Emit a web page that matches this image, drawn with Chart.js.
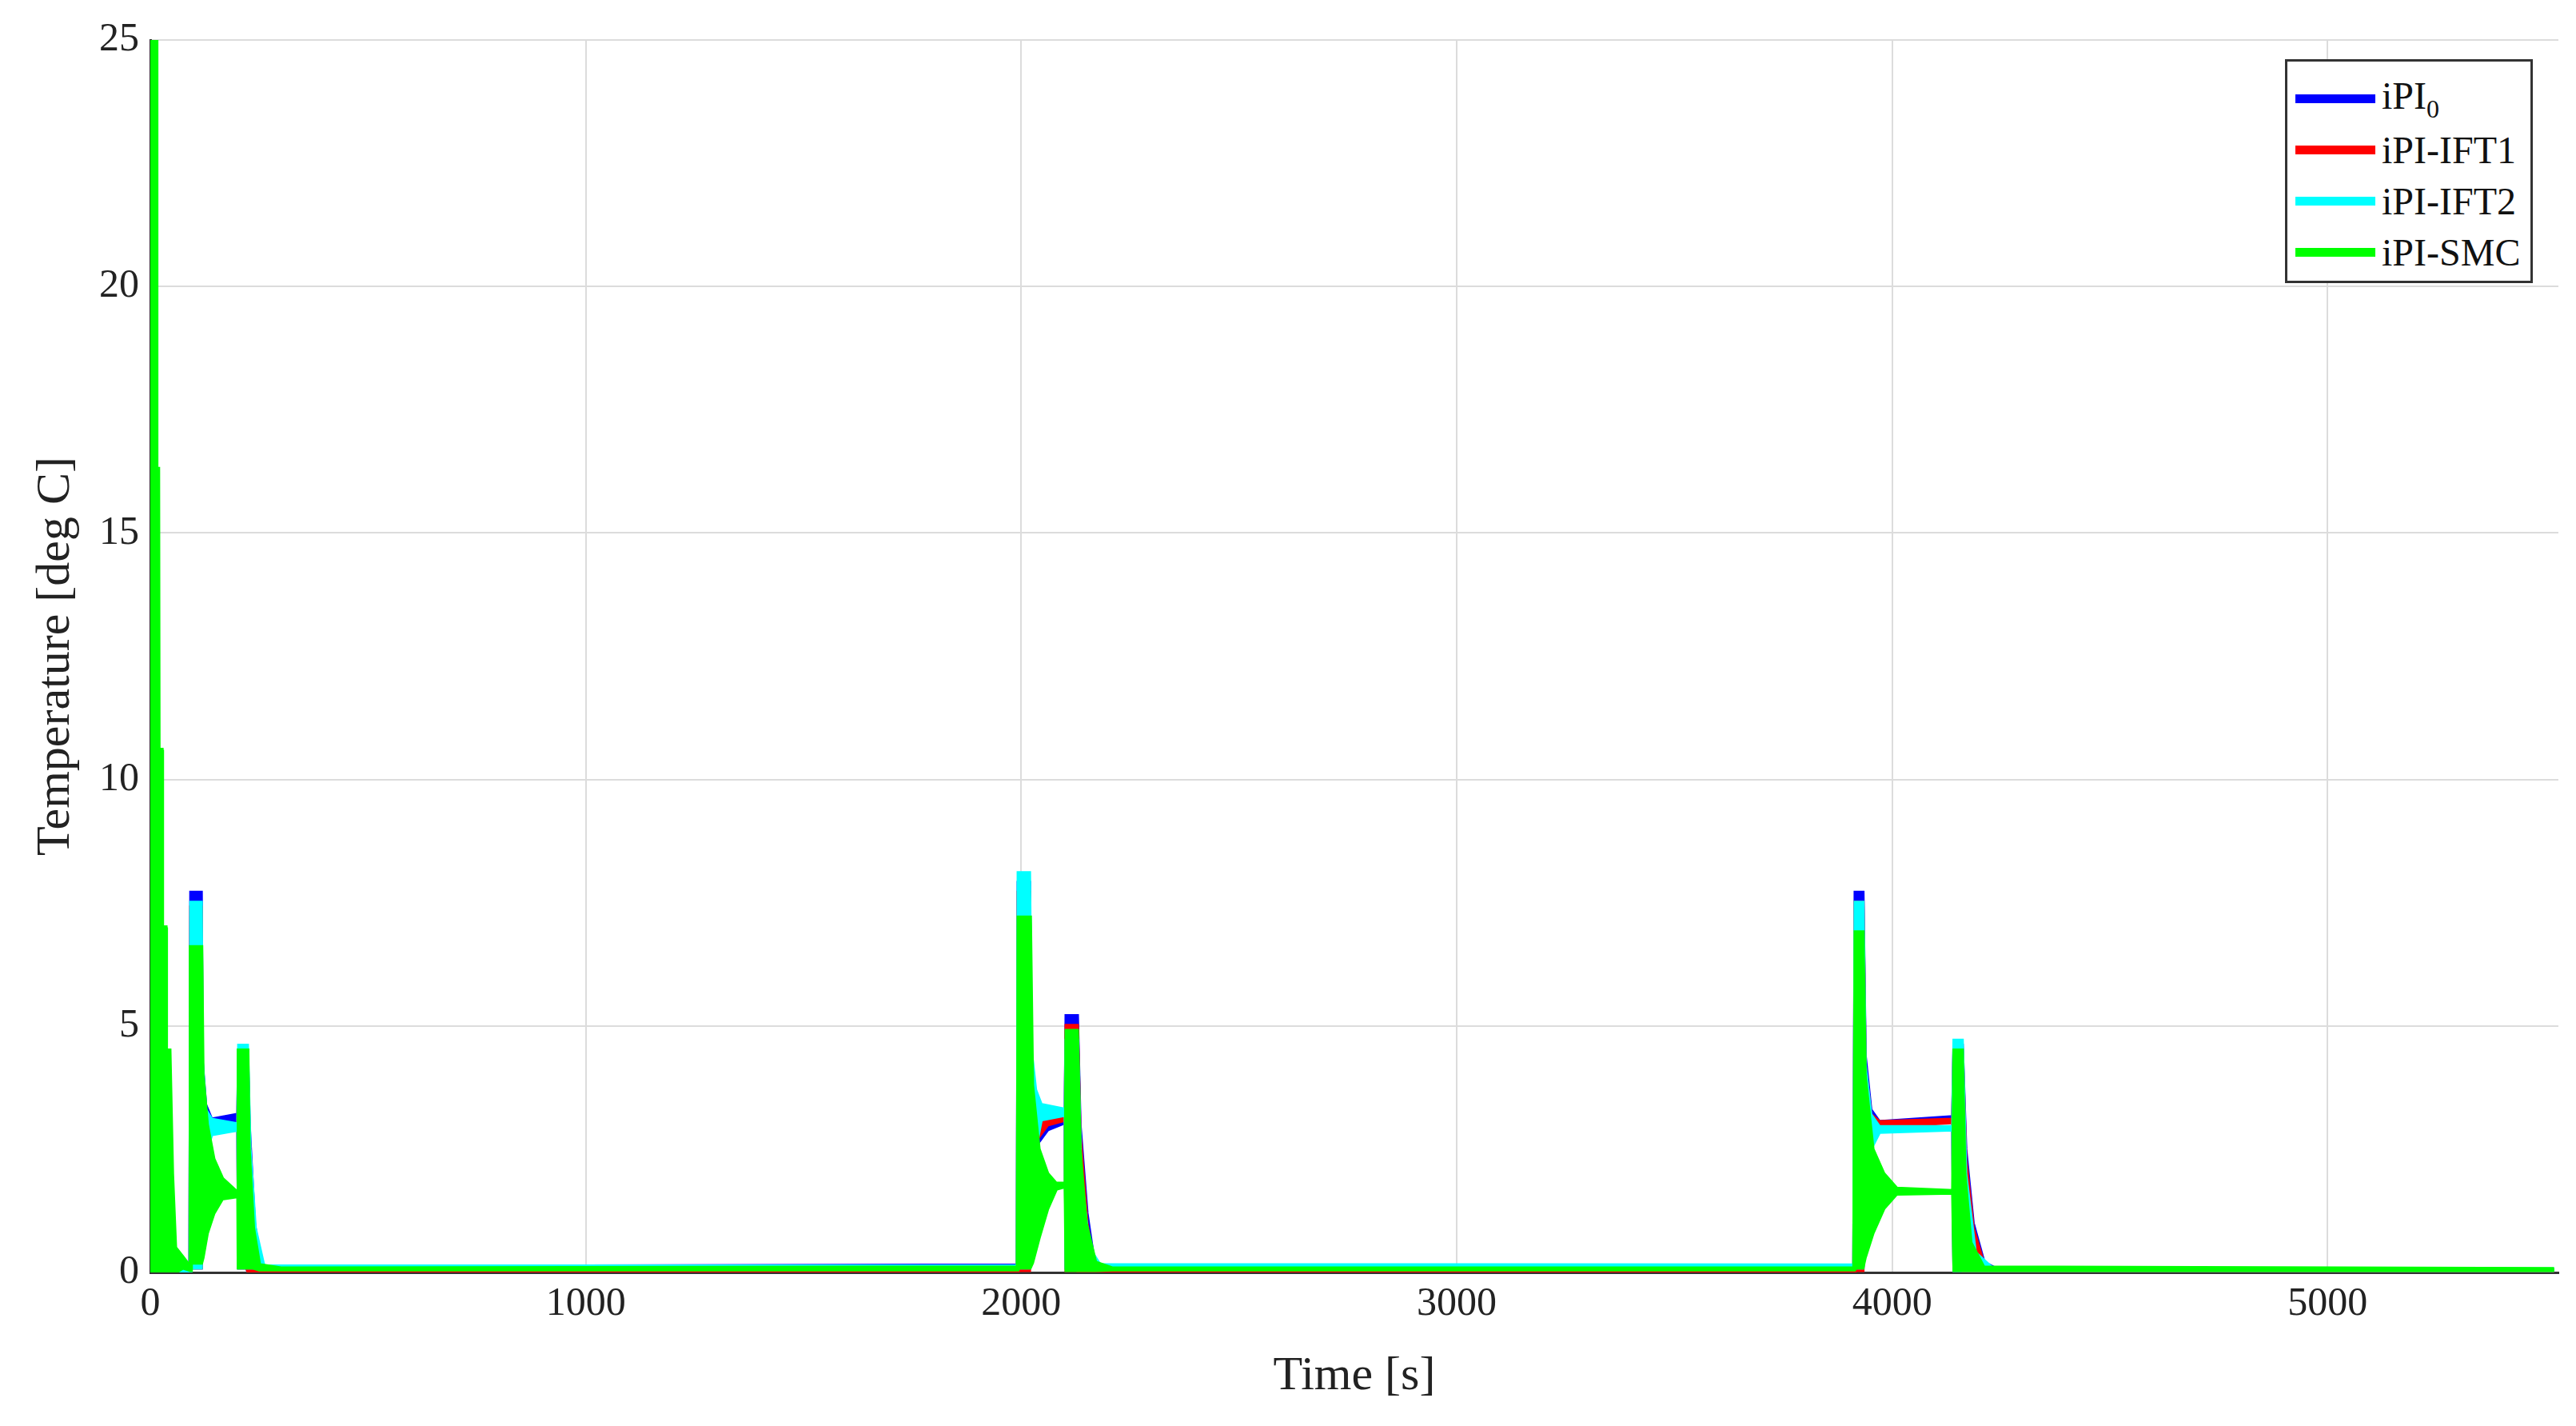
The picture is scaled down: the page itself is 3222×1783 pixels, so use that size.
<!DOCTYPE html>
<html>
<head>
<meta charset="utf-8">
<script src="https://cdn.jsdelivr.net/npm/chart.js@4/dist/chart.umd.min.js"></script>
<style>
  body { margin: 0; background: #fff; }
  #wrap { position: relative; width: 3222px; height: 1783px; }
  #legend { position: absolute; left: 2858px; top: 74px; width: 310px; height: 280px;
    border: 3px solid #333; background: #fff; font-family: "Liberation Serif", "DejaVu Serif", serif;
    font-size: 48px; color: #111; box-sizing: border-box; padding-top: 14px; white-space: nowrap; }
  .row { display: flex; align-items: center; height: 64px; }
  .sw { width: 100px; height: 11px; margin: 0 8px 0 10px; }
  sub { font-size: 32px; }
</style>
</head>
<body>
<div id="wrap">
  <canvas id="c" width="3222" height="1783"></canvas>
  <div id="legend"></div>
</div>
<script>
// [time, lower envelope, upper envelope]
const tempPI0 = [[0,0,0.8],[15,0,0.8],[40,0,0.3],[75,0.1,0.2],[92,0.05,0.1],[94,0.1,7.7],[116,0.1,7.7],[118,1.5,4.3],[126,2.6,3.4],[140,3.0,3.1],[202,3.1,3.2],[204,0.1,4.5],[222,0.1,4.5],[226,0,3],[238,0,1],[250,0,0.3],[265,0,0.05],[320,0.06,0.08],[1000,0.1,0.12],[1992,0.12,0.14],[1994,0.1,7.9],[2018,0.1,7.9],[2022,1.5,4],[2035,2.6,3],[2060,2.9,3.1],[2102,3.05,3.15],[2104,0.1,5.2],[2128,0.1,5.2],[2134,0,3],[2150,0,1.2],[2165,0,0.3],[2190,0.02,0.05],[3913,0.02,0.04],[3916,0.1,7.7],[3932,0.1,7.7],[3937,1.5,4.4],[3950,2.8,3.3],[3970,3.0,3.05],[4140,3.1,3.15],[4143,0.05,4.6],[4160,0.05,4.6],[4168,0,2.5],[4185,0,1],[4210,0,0.2],[4240,0.03,0.06],[5520,0.03,0.05]];
const tempIFT1 = [[0,0,0.6],[15,0,0.6],[40,0,0.25],[75,0.05,0.15],[92,0.05,0.1],[94,0.1,7.4],[116,0.1,7.4],[118,1.5,4.0],[126,2.5,3.2],[140,2.85,3.0],[202,2.9,3.0],[204,0.1,4.4],[222,0.1,4.4],[226,0,2.8],[238,0,0.9],[250,0,0.2],[265,0,0.03],[320,0.02,0.04],[1992,0.02,0.04],[1994,0.05,7.7],[2018,0.05,7.7],[2022,1.5,3.9],[2035,2.7,3.1],[2060,3.0,3.2],[2102,3.1,3.2],[2104,0.05,5.0],[2128,0.05,5.0],[2134,0,2.8],[2150,0,1.0],[2165,0,0.2],[2190,0,0.02],[3913,0,0.02],[3916,0.05,7.5],[3932,0.05,7.5],[3937,1.5,4.2],[3950,2.8,3.2],[3970,2.95,3.05],[4140,3.05,3.1],[4143,0.05,4.5],[4160,0.05,4.5],[4168,0,2.3],[4185,0,0.9],[4210,0,0.15],[4240,0.02,0.04],[5520,0.02,0.04]];
const tempIFT2 = [[0,0,1.5],[10,0,1.5],[30,0,0.5],[60,0,0.1],[92,0,0.05],[94,0.1,7.5],[116,0.1,7.5],[118,1,4.3],[126,2.4,3.3],[140,2.8,3.1],[202,2.9,3.0],[204,0.1,4.6],[222,0.1,4.6],[228,0.1,2.5],[240,0.1,0.9],[260,0.08,0.12],[1992,0.1,0.12],[1994,0.1,8.1],[2018,0.1,8.1],[2022,1.5,4.5],[2032,2.5,3.7],[2045,3.1,3.4],[2102,3.2,3.3],[2104,0.1,4.7],[2128,0.1,4.7],[2136,0.1,2],[2155,0.12,0.5],[2180,0.12,0.15],[3913,0.12,0.14],[3916,0.1,7.5],[3932,0.1,7.5],[3937,1.5,4.2],[3950,2.5,3.2],[3970,2.85,2.95],[4140,2.9,2.95],[4143,0.05,4.7],[4160,0.05,4.7],[4168,0.05,2],[4190,0.05,0.4],[4230,0.05,0.08],[5520,0.05,0.06]];
const tempSMC = [[0,0,25],[13,0,25],[14,0,16.3],[18,0,16.3],[19,0,10.6],[26,0,10.6],[27,0,7],[35,0,7],[36,0,4.5],[44,0,4.5],[50,0,2],[57,0,0.5],[75,0.1,0.3],[92,0.05,0.1],[93,0.2,6.6],[117,0.2,6.6],[120,0.3,4],[130,0.8,3],[145,1.2,2.3],[165,1.5,1.9],[202,1.55,1.6],[203,0.1,4.5],[223,0.1,4.5],[226,0.1,2.5],[236,0.1,0.9],[250,0.06,0.15],[300,0.06,0.08],[1992,0.06,0.1],[1994,0.1,7.2],[2020,0.1,7.2],[2025,0.2,3.8],[2040,0.7,2.5],[2060,1.3,2.0],[2080,1.7,1.8],[2102,1.75,1.8],[2104,0.05,4.9],[2128,0.05,4.9],[2134,0.05,2.5],[2148,0.05,1],[2170,0.05,0.2],[2210,0.06,0.08],[3913,0.06,0.08],[3916,0.1,6.9],[3932,0.1,6.9],[3937,0.3,4],[3955,0.8,2.5],[3980,1.3,2.0],[4010,1.6,1.7],[4140,1.62,1.65],[4143,0.05,4.5],[4160,0.05,4.5],[4166,0.05,2],[4180,0.05,0.6],[4210,0.05,0.1],[5520,0.05,0.07]];

const seriesNames = ['iPI<sub>0</sub>', 'iPI-IFT1', 'iPI-IFT2', 'iPI-SMC'];
const seriesColors = ['#0000ff', '#ff0000', '#00ffff', '#00ff00'];
const seriesData = [tempPI0, tempIFT1, tempIFT2, tempSMC];
const xTicks = [0, 1000, 2000, 3000, 4000, 5000];

const serif = '"Liberation Serif", "DejaVu Serif", serif';

var datasets = [];
seriesData.forEach((s, i) => {
  const drawOrder = 4 - i;
  datasets.push({
    data: s.map(p => ({x: p[0], y: p[2]})),
    borderColor: seriesColors[i], backgroundColor: seriesColors[i],
    borderWidth: 5, pointRadius: 0, fill: {target: datasets.length + 1}, order: drawOrder
  });
  datasets.push({
    data: s.map(p => ({x: p[0], y: p[1]})),
    borderColor: seriesColors[i], borderWidth: 5, pointRadius: 0, fill: false, order: drawOrder
  });
});

new Chart('c', {
  type: 'line',
  data: { datasets: datasets },
  options: {
    responsive: false, animation: false,
    layout: { padding: { top: 50, right: 22, left: 30, bottom: 26 } },
    plugins: { legend: { display: false }, tooltip: { enabled: false } },
    scales: {
      x: {
        type: 'linear', min: 0, max: 5530,
        afterBuildTicks: ax => { ax.ticks = xTicks.map(v => ({value: v})); },
        grid: { color: '#dcdcdc', lineWidth: 2, tickLength: 0 },
        border: { color: '#333', width: 3 },
        ticks: { font: { family: serif, size: 50 }, color: '#222', padding: 10, callback: v => String(v) },
        title: { display: true, text: 'Time [s]', font: { family: serif, size: 60 }, color: '#222', padding: { top: 14, bottom: 0 } }
      },
      y: {
        min: 0, max: 25,
        grid: { color: '#dcdcdc', lineWidth: 2, tickLength: 0 },
        border: { color: '#333', width: 3 },
        ticks: { stepSize: 5, font: { family: serif, size: 50 }, color: '#222', padding: 14 },
        title: { display: true, text: 'Temperature [deg C]', font: { family: serif, size: 60 }, color: '#222', padding: 4 }
      }
    }
  }
});

const legend = document.getElementById('legend');
seriesNames.forEach((n, i) => {
  legend.innerHTML += `<div class="row"><div class="sw" style="background:${seriesColors[i]}"></div><span>${n}</span></div>`;
});
</script>
</body>
</html>
